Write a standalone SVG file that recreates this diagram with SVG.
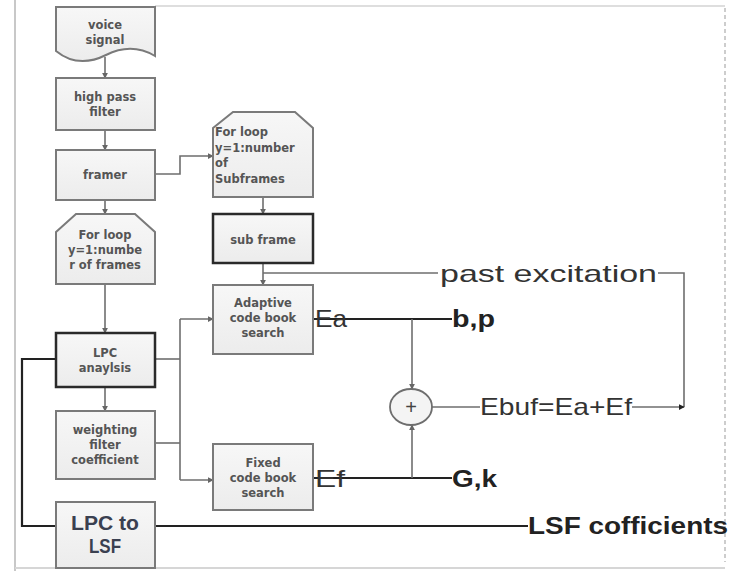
<svg xmlns="http://www.w3.org/2000/svg" width="731" height="571" viewBox="0 0 731 571">
  <defs>
    <linearGradient id="boxFill" x1="0" y1="0" x2="0" y2="1">
      <stop offset="0" stop-color="#f7f7f7"/>
      <stop offset="1" stop-color="#ececec"/>
    </linearGradient>
    <marker id="arr" viewBox="0 0 8 8" refX="7" refY="4" markerWidth="6" markerHeight="6" orient="auto" markerUnits="userSpaceOnUse">
      <path d="M0,0 L8,4 L0,8 Z" fill="#666"/>
    </marker>
    <marker id="arrDark" viewBox="0 0 8 8" refX="7" refY="4" markerWidth="6" markerHeight="6" orient="auto" markerUnits="userSpaceOnUse">
      <path d="M0,0 L8,4 L0,8 Z" fill="#222"/>
    </marker>
  </defs>
  <style>
    .box { fill: url(#boxFill); stroke: #7a7a7a; stroke-width: 2; }
    .boxDark { fill: url(#boxFill); stroke: #2a2a2a; stroke-width: 2.5; }
    .lbl { font-family: "DejaVu Sans", "Liberation Sans", sans-serif; font-weight: bold; font-size: 11.5px; fill: #555; text-anchor: middle; }
    .lblL { font-family: "DejaVu Sans", "Liberation Sans", sans-serif; font-weight: bold; font-size: 11.5px; fill: #555; }
    .big { font-family: "Liberation Sans", Arial, sans-serif; font-size: 21px; font-weight: bold; fill: #3a4050; text-anchor: middle; }
    .sig { font-family: "Liberation Sans", Arial, sans-serif; font-size: 24px; fill: #333; }
    .sigB { font-family: "Liberation Sans", Arial, sans-serif; font-size: 23px; font-weight: bold; fill: #222; }
    .thin { fill: none; stroke: #6e6e6e; stroke-width: 1.6; }
    .thick { fill: none; stroke: #222; stroke-width: 2.2; }
    .frame { fill: none; stroke: #c8c8c8; stroke-width: 2; }
  </style>

  <!-- page frame -->
  <g id="frame">
    <line class="frame" x1="15" y1="0" x2="15" y2="571"/>
    <line x1="155" y1="6" x2="725" y2="6" stroke="#dedede" stroke-width="2"/>
    <line x1="15" y1="568" x2="725" y2="568" stroke="#d6d6d6" stroke-width="2"/>
    <line x1="725" y1="8" x2="725" y2="562" stroke="#bdbdbd" stroke-width="1.5" stroke-dasharray="4,3"/>
  </g>

  <!-- connectors -->
  <g id="connectors">
    <line class="thin" x1="105" y1="57" x2="105" y2="78" marker-end="url(#arr)"/>
    <line class="thin" x1="105" y1="130" x2="105" y2="150" marker-end="url(#arr)"/>
    <line class="thin" x1="105" y1="200" x2="105" y2="214" marker-end="url(#arr)"/>
    <line class="thin" x1="105" y1="284" x2="105" y2="333" marker-end="url(#arr)"/>
    <line class="thin" x1="105" y1="387" x2="105" y2="411" marker-end="url(#arr)"/>
    <polyline class="thin" points="155,174 180,174 180,156 213,156" marker-end="url(#arr)"/>
    <line class="thin" x1="263" y1="197" x2="263" y2="214" marker-end="url(#arr)"/>
    <line class="thin" x1="263" y1="263" x2="263" y2="285" marker-end="url(#arr)"/>
    <line class="thin" x1="263" y1="273" x2="438" y2="273"/>
    <polyline class="thin" points="658,273 684,273 684,407"/>
    <!-- LPC / weighting feed into both codebook searches -->
    <line class="thin" x1="155" y1="359" x2="180" y2="359"/>
    <line class="thin" x1="155" y1="443" x2="180" y2="443"/>
    <line class="thin" x1="180" y1="319" x2="180" y2="480"/>
    <line class="thin" x1="180" y1="319" x2="213" y2="319" marker-end="url(#arr)"/>
    <line class="thin" x1="180" y1="480" x2="213" y2="480" marker-end="url(#arr)"/>
    <!-- codebook outputs -->
    <line class="thick" x1="313" y1="319" x2="452" y2="319"/>
    <line class="thick" x1="313" y1="478" x2="452" y2="478"/>
    <line class="thin" x1="412" y1="319" x2="412" y2="389" marker-end="url(#arr)"/>
    <line class="thin" x1="412" y1="478" x2="412" y2="425" marker-end="url(#arr)"/>
    <line class="thin" x1="432" y1="407" x2="480" y2="407"/>
    <line class="thin" x1="632" y1="407" x2="684" y2="407" marker-end="url(#arrDark)"/>
    <!-- LPC to LSF loop -->
    <polyline class="thick" points="56,359 22,359 22,526 56,526"/>
    <line class="thick" x1="155" y1="526" x2="528" y2="526"/>
  </g>

  <g id="voice-signal">
    <path class="box" d="M56,7 H155 V56 C138,46 122,47 106,55 C90,63 72,64 56,51 Z"/>
    <text class="lbl" x="105" y="29">voice</text>
    <text class="lbl" x="105" y="44">signal</text>
  </g>

  <g id="high-pass-filter">
    <rect class="box" x="56" y="78" width="99" height="52"/>
    <text class="lbl" x="105" y="101">high pass</text>
    <text class="lbl" x="105" y="116">filter</text>
  </g>

  <g id="framer">
    <rect class="box" x="56" y="150" width="99" height="50"/>
    <text class="lbl" x="105" y="179">framer</text>
  </g>

  <g id="frame-loop">
    <path class="box" d="M56,232 L76,214 H135 L155,232 V284 H56 Z"/>
    <text class="lbl" x="105" y="239">For loop</text>
    <text class="lbl" x="105" y="254">y=1:numbe</text>
    <text class="lbl" x="105" y="269">r of frames</text>
  </g>

  <g id="lpc-analysis">
    <rect class="boxDark" x="56" y="333" width="99" height="54"/>
    <text class="lbl" x="105" y="357">LPC</text>
    <text class="lbl" x="105" y="372">anaylsis</text>
  </g>

  <g id="weighting-filter">
    <rect class="box" x="56" y="411" width="99" height="68"/>
    <text class="lbl" x="105" y="434">weighting</text>
    <text class="lbl" x="105" y="449">filter</text>
    <text class="lbl" x="105" y="464">coefficient</text>
  </g>

  <g id="lpc-to-lsf">
    <rect class="box" x="56" y="502" width="99" height="66"/>
    <text class="big" x="105" y="530" textLength="68" lengthAdjust="spacingAndGlyphs">LPC to</text>
    <text class="big" x="105" y="553" textLength="32" lengthAdjust="spacingAndGlyphs">LSF</text>
  </g>

  <g id="subframe-loop">
    <path class="box" d="M213,128 L233,112 H295 L313,128 V197 H213 Z"/>
    <text class="lblL" x="215" y="136">For loop</text>
    <text class="lblL" x="215" y="152">y=1:number</text>
    <text class="lblL" x="215" y="167">of</text>
    <text class="lblL" x="215" y="183">Subframes</text>
  </g>

  <g id="sub-frame">
    <rect class="boxDark" x="213" y="214" width="100" height="49"/>
    <text class="lbl" x="263" y="244">sub frame</text>
  </g>

  <g id="adaptive-codebook">
    <rect class="box" x="213" y="285" width="100" height="69"/>
    <text class="lbl" x="263" y="307">Adaptive</text>
    <text class="lbl" x="263" y="322">code book</text>
    <text class="lbl" x="263" y="337">search</text>
  </g>

  <g id="fixed-codebook">
    <rect class="box" x="213" y="444" width="100" height="66"/>
    <text class="lbl" x="263" y="467">Fixed</text>
    <text class="lbl" x="263" y="482">code book</text>
    <text class="lbl" x="263" y="497">search</text>
  </g>

  <g id="adder">
    <ellipse cx="411" cy="407" rx="21" ry="18" fill="#f4f4f4" stroke="#6e6e6e" stroke-width="1.8"/>
    <text x="411" y="414" font-family="Liberation Sans, sans-serif" font-size="20" fill="#444" text-anchor="middle">+</text>
  </g>

  <g id="signal-labels">
    <text class="sig" x="315" y="327" textLength="32" lengthAdjust="spacingAndGlyphs">Ea</text>
    <text class="sig" x="315" y="487" textLength="30" lengthAdjust="spacingAndGlyphs">Ef</text>
    <text class="sig" x="440" y="282" font-size="28" textLength="217" lengthAdjust="spacingAndGlyphs">past excitation</text>
    <text class="sig" x="480" y="415" textLength="152" lengthAdjust="spacingAndGlyphs">Ebuf=Ea+Ef</text>
    <text class="sigB" x="452" y="327" textLength="43" lengthAdjust="spacingAndGlyphs">b,p</text>
    <text class="sigB" x="452" y="487" textLength="45" lengthAdjust="spacingAndGlyphs">G,k</text>
    <text class="sigB" x="528" y="534" textLength="200" lengthAdjust="spacingAndGlyphs">LSF cofficients</text>
  </g>
</svg>
